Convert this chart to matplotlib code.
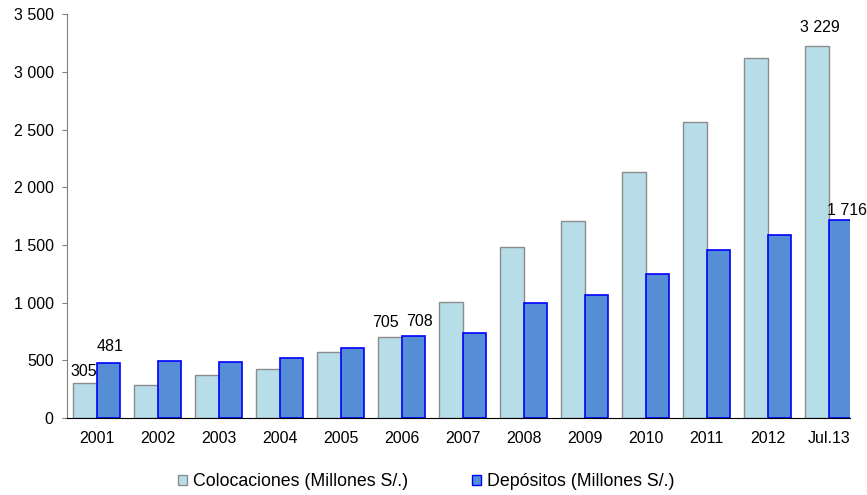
import matplotlib
matplotlib.use("Agg")
import matplotlib.pyplot as plt
import numpy as np
from matplotlib.ticker import FuncFormatter, MultipleLocator
from matplotlib.patches import Patch

plt.rcParams['font.family'] = ['Liberation Sans', 'DejaVu Sans']

categories = ["2001", "2002", "2003", "2004", "2005", "2006", "2007",
              "2008", "2009", "2010", "2011", "2012", "Jul.13"]
colocaciones = [305, 286, 370, 422, 570, 705, 1004, 1487, 1713, 2132, 2569, 3122, 3229]
depositos = [481, 497, 486, 524, 608, 708, 741, 1001, 1071, 1250, 1455, 1589, 1716]
series_names = ["Colocaciones (Millones S/.)", "Depósitos (Millones S/.)"]

# labelled points: (series index, category index, x offset pts, y offset pts)
labelled = [(0, 0, -1, 3), (1, 0, 1, 6), (0, 5, -3.6, 5), (1, 5, 4, 5),
            (0, 12, 2, 8), (1, 12, 5, 1.5)]

light_fc, light_ec = "#B7DDE8", "#8C8C8C"
dark_fc, dark_ec = "#558ED5", "#0000FF"

fig = plt.figure(figsize=(8.67, 4.95), dpi=100)
ax = fig.add_axes([67/867, 1 - 418/495, (850-67)/867, (418-14.5)/495])

x = np.arange(len(categories))
w = 0.385
ax.bar(x - w/2, colocaciones, width=w, color=light_fc, edgecolor=light_ec, linewidth=1.0)
ax.bar(x + w/2, depositos, width=w, color=dark_fc, edgecolor=dark_ec, linewidth=1.2)

def fmt(v, pos=None):
    return f"{int(v):,}".replace(",", " ")

series = [colocaciones, depositos]
for s, i, dx, dy in labelled:
    xv = x[i] + (w/2 if s == 1 else -w/2)
    yv = series[s][i]
    ax.annotate(fmt(yv), (xv, yv), xytext=(dx, dy), textcoords="offset points",
                ha="center", va="bottom", fontsize=11.5, color="#000000",
                annotation_clip=False)

ax.set_ylim(0, 3500)
ax.set_xlim(-0.49, 12.35)
ax.yaxis.set_major_locator(MultipleLocator(500))
ax.yaxis.set_major_formatter(FuncFormatter(fmt))
ax.set_xticks(x)
ax.set_xticklabels(categories)
ax.tick_params(axis="x", length=0, labelsize=11.5, pad=9.5)
ax.tick_params(axis="y", length=3.6, labelsize=11.5, direction="out", color="#808080", pad=6)
for sp in ["top", "right"]:
    ax.spines[sp].set_visible(False)
ax.spines["left"].set_color("#808080")
ax.spines["bottom"].set_color("#000000")

handles = [Patch(facecolor=light_fc, edgecolor=light_ec, label=series_names[0]),
           Patch(facecolor=dark_fc, edgecolor=dark_ec, label=series_names[1])]
fig.legend(handles=handles, loc="center left", bbox_to_anchor=(178/867, 1 - 482/495), ncol=2,
           frameon=False, fontsize=12.8, handlelength=0.5, handleheight=0.5,
           handletextpad=0.35, columnspacing=3.6, borderpad=0, borderaxespad=0)

fig.savefig("out.png", dpi=100)
